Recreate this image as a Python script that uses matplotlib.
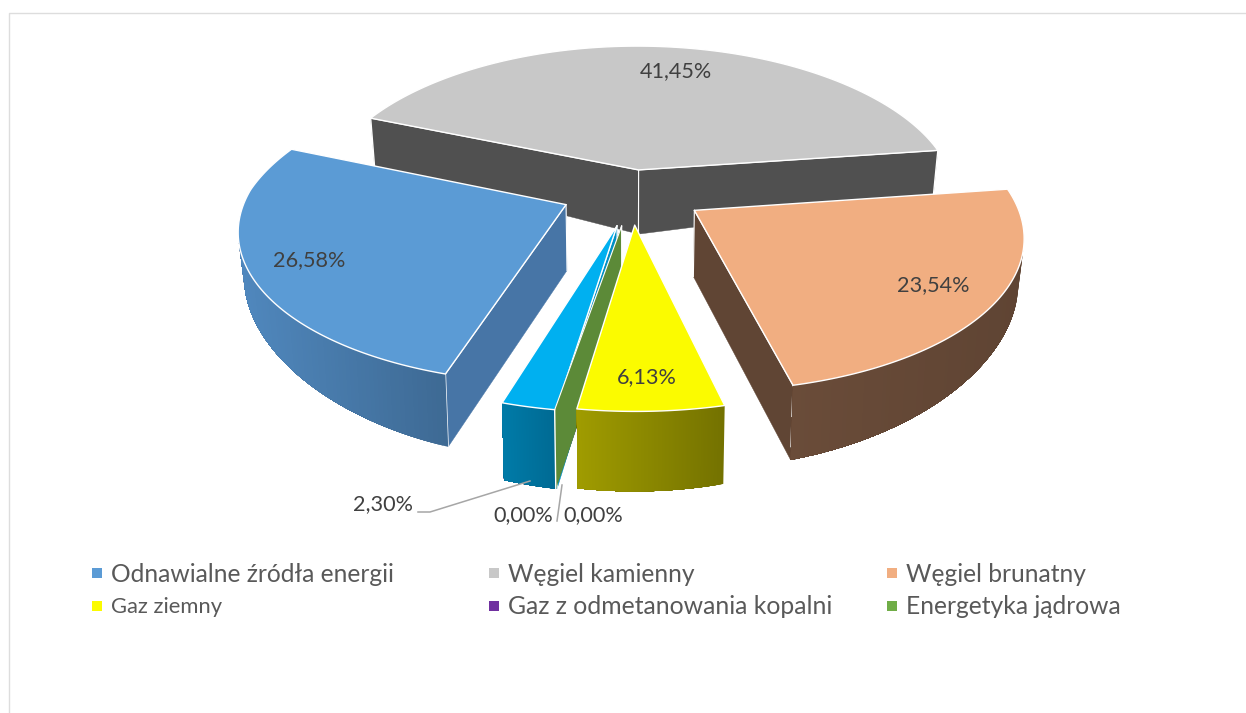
import numpy as np
import matplotlib
matplotlib.use("Agg")
import matplotlib.pyplot as plt
from matplotlib.collections import PolyCollection
from matplotlib.colors import to_rgb

# --- data -----------------------------------------------------------------
categories = ["Odnawialne źródła energii", "Węgiel kamienny", "Węgiel brunatny",
              "Gaz ziemny", "Gaz z odmetanowania kopalni", "Energetyka jądrowa", "Inne"]
values = [26.58, 41.45, 23.54, 6.13, 0.00, 0.00, 2.30]
labels = ["26,58%", "41,45%", "23,54%", "6,13%", "0,00%", "0,00%", "2,30%"]

# --- styles ---------------------------------------------------------------
top_colors = ["#5B9BD5", "#C8C8C8", "#F1AE81", "#FBFB00", "#7030A0", "#70AD47", "#00B0F0"]
wall_colors = ["#4775A6", "#505050", "#604534", "#8C8A00", "#55257A", "#5C8A38", "#0090C4"]
side_stops = [("#5088BE", "#3E6A94"), ("#505050", "#505050"), ("#604534", "#6A4C39"),
              ("#A09C00", "#747200"), ("#55257A", "#55257A"), ("#5C8A38", "#5C8A38"),
              ("#007BA8", "#006A93")]
side_stops[2] = ("#6A4C39", "#5F4433")
explode = [0.23, 0.14, 0.24, 0.23, 0.24, 0.24, 0.24]
explode_dx = [0.01, 0.01, 0.0, 0.005, 0.015, 0.015, 0.014]
angle_shift = [0, 0, 0, 0, 1.0, 1.0, 0]
draw_order = [1, 0, 2, 4, 6, 5, 3]
FIRST_ANGLE = 197.0
CX, CY, F, G, P, K = 630.0, 190.0, 318.0, 147.5, 0.147, 0.035
D, A, Q = 65.5, 0.25, 0.015
W, H = 1246, 713
LABEL_POS = {0: (309, 260), 1: (676, 71), 2: (933, 285), 3: (647, 377),
             4: (523, 515), 5: (593, 515), 6: (383, 504)}
LEG_X = [97, 494, 892]
LEG_Y = [573, 606]
LEG_SIZE = [17.7, 17.7, 17.7, 15.8, 17.85, 17.7]


def project(u, v, z=0.0):
    s = 1.0 / (1.0 - P * v)
    x = CX + F * u * s * (1 + K * np.minimum(v, 0)) * (1 - Q * z)
    y = CY + G * v * s + D * s * (1 - A * u * u) * z
    return np.column_stack([x, y])


def area(q):
    x, y = q[:, 0], q[:, 1]
    return 0.5 * np.sum(x * np.roll(y, -1) - np.roll(x, -1) * y)


plt.rcParams["font.family"] = ["Lato", "DejaVu Sans"]
fig = plt.figure(figsize=(W / 100, H / 100), dpi=100)
ax = fig.add_axes([0, 0, 1, 1])
ax.set_xlim(0, W)
ax.set_ylim(H, 0)
ax.axis("off")

# chart frame, running off the picture at right and bottom
ax.plot([8.5, 8.5, W + 5], [H + 5, 12.5, 12.5], color="#DDDDDD", lw=1.0, zorder=0)

total = sum(values)
bounds = FIRST_ANGLE + 360.0 * np.concatenate([[0], np.cumsum(values)]) / total

zo = 1
for i in draw_order:
    t1, t2 = bounds[i] + angle_shift[i], bounds[i + 1] + angle_shift[i]
    mid = np.radians((t1 + t2) / 2)
    ex = explode[i] * np.sin(mid) + explode_dx[i]
    ey = -explode[i] * np.cos(mid)
    th = np.radians(np.linspace(t1, t2, 121))
    u, v = ex + np.sin(th), ey - np.cos(th)
    top = project(u, v)
    bot = project(u, v, 1.0)
    apex = project(np.array([ex]), np.array([ey]))
    apex_b = project(np.array([ex]), np.array([ey]), 1.0)

    # flat walls, only when they face the viewer
    walls = [(np.vstack([apex, top[0], bot[0], apex_b]), -1),
             (np.vstack([apex, top[-1], bot[-1], apex_b]), 1)]
    for quad, sign in walls:
        if area(quad) * sign > 0:
            ax.add_patch(plt.Polygon(quad, closed=True, fc=wall_colors[i], ec=wall_colors[i],
                                     lw=0.3, zorder=zo))
            zo += 1
            ax.plot(quad[[1, 2], 0], quad[[1, 2], 1], color="white", lw=1.0, zorder=zo)
            ax.plot(quad[[0, 3], 0], quad[[0, 3], 1], color="white", lw=0.8, zorder=zo)
            ax.plot(quad[[0, 1], 0], quad[[0, 1], 1], color="white", lw=0.8, zorder=zo)

    # curved outer side, shaded from left to right; each band overlaps the
    # following ones so that no seams show
    c0, c1 = np.array(to_rgb(side_stops[i][0])), np.array(to_rgb(side_stops[i][1]))
    xmin, xmax = top[:, 0].min(), top[:, 0].max()
    visible = [k for k in range(len(th) - 1)
               if area(np.vstack([top[k], top[k + 1], bot[k + 1], bot[k]])) < 0]
    if visible and values[i] > 0:
        last = visible[-1] + 2
        quads, cols = [], []
        for k in visible:
            quads.append(np.vstack([top[k:last], bot[k:last][::-1]]))
            f = (top[k, 0] - xmin) / max(xmax - xmin, 1e-6)
            cols.append(c0 + (c1 - c0) * f)
        ax.add_collection(PolyCollection(quads, facecolors=cols, edgecolors="none", zorder=zo))
    zo += 1

    # top face
    if values[i] > 0:
        poly = np.vstack([apex, top])
        ax.add_patch(plt.Polygon(poly, closed=True, fc=top_colors[i], ec="white", lw=1.0,
                                 joinstyle="round", zorder=zo))
    zo += 1

# leader lines
ax.plot([418, 430, 530], [512, 512, 481], color="#A6A6A6", lw=1.1, zorder=zo)
ax.plot([562, 557], [485, 521], color="#A6A6A6", lw=1.1, zorder=zo)

# value labels
for i, lab in enumerate(labels):
    x, y = LABEL_POS[i]
    ax.text(x, y, lab, ha="center", va="center", fontsize=15.6, color="#404040", zorder=zo + 1)

# legend
for i in range(6):
    lx, ly = LEG_X[i % 3], LEG_Y[i // 3]
    ax.scatter([lx], [ly], marker="s", s=48, color=top_colors[i], lw=0, zorder=zo + 1)
    ax.text(lx + 14, ly + 1, categories[i], ha="left", va="center",
            fontsize=LEG_SIZE[i], color="#595959", zorder=zo + 1)

fig.savefig("out.png", dpi=100, facecolor="white")
